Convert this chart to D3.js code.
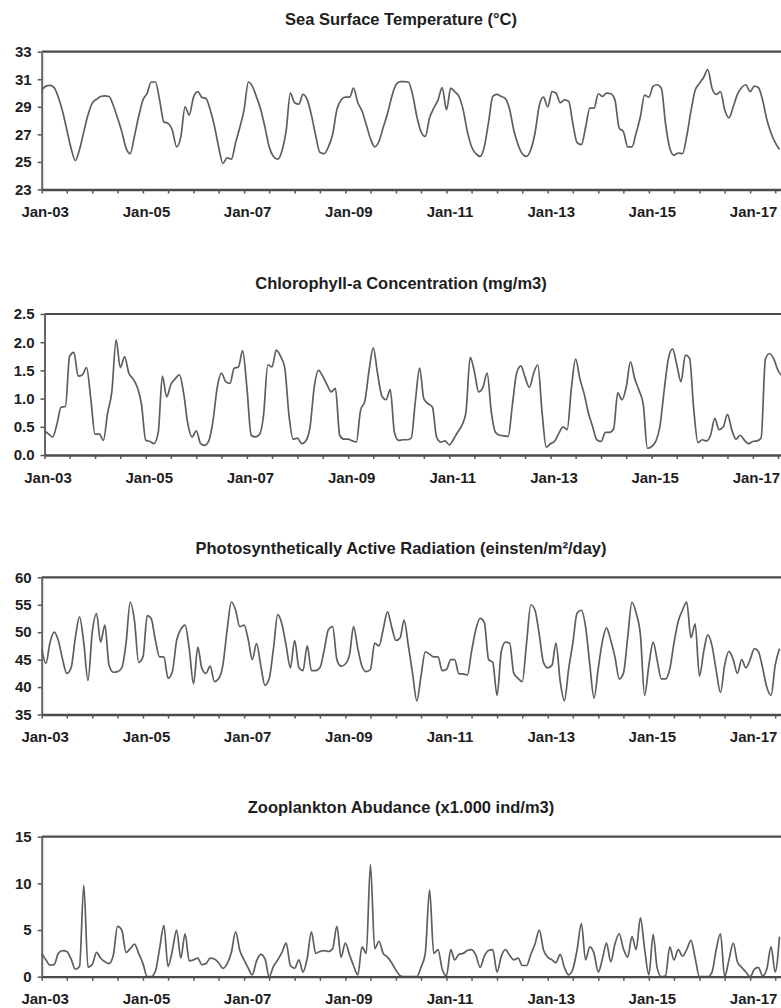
<!DOCTYPE html>
<html>
<head>
<meta charset="utf-8">
<script src="https://cdn.jsdelivr.net/npm/d3@7"></script>
<style>
	body { margin: 0; background: #fff; }
	svg { display: block; font-family: "Liberation Sans", Arial, sans-serif; }
</style>
</head>
<body>
<svg id="chart" width="781" height="1008"></svg>
<script>
// monthly series, first value = Jan 2003
var startYear = 2003;

var sstValues = [
	30.2, 30.5, 30.55, 30.4, 29.7, 28.66, 27.34, 26.0, 25.1, 25.9,
	27.2, 28.4, 29.27, 29.55, 29.75, 29.8, 29.75, 29.1, 28.2, 27.2,
	26.0, 25.6, 26.9, 28.3, 29.5, 30.0, 30.8, 30.8, 29.5, 27.9,
	27.8, 27.3, 26.1, 26.8, 29.0, 28.4, 29.7, 30.1, 29.7, 29.6,
	28.8, 27.6, 26.1, 24.9, 25.3, 25.2, 26.4, 27.5, 28.8, 30.8,
	30.5, 29.7, 28.8, 27.5, 26.1, 25.4, 25.2, 25.8, 27.3, 30.0,
	29.3, 29.2, 29.9, 29.5, 28.4, 26.9, 25.7, 25.6, 26.1, 27.0,
	28.8, 29.5, 29.7, 29.7, 30.35, 29.3, 28.7, 27.7, 26.7, 26.1,
	26.5, 27.5, 28.5, 29.7, 30.6, 30.83, 30.83, 30.8, 29.9, 28.3,
	27.2, 26.85, 28.2, 28.9, 29.5, 30.4, 28.8, 30.35, 30.1, 29.75,
	28.8, 27.2, 26.1, 25.6, 25.4, 26.1, 27.9, 29.75, 29.9, 29.75,
	29.6, 28.8, 27.3, 26.25, 25.6, 25.4, 25.9, 27.1, 29.1, 29.7,
	29.0, 30.1, 30.0, 29.3, 29.5, 29.4, 27.8, 26.4, 26.25, 27.5,
	28.9, 28.9, 29.95, 29.75, 30.0, 29.95, 29.5, 27.45, 27.2, 26.1,
	26.1, 27.1, 28.3, 29.85, 29.7, 30.5, 30.6, 30.35, 27.8, 26.0,
	25.5, 25.65, 25.6, 26.85, 28.7, 30.2, 30.7, 31.15, 31.7, 30.35,
	29.9, 30.1, 28.8, 28.2, 29.0, 29.9, 30.4, 30.6, 30.1, 30.5,
	30.4, 29.5, 28.1, 27.1, 26.4, 25.9
];

var chlValues = [
	0.43, 0.37, 0.32, 0.55, 0.85, 0.86, 1.75, 1.82, 1.40, 1.42,
	1.55, 1.0, 0.37, 0.37, 0.26, 0.75, 1.12, 2.04, 1.55, 1.74,
	1.45, 1.35, 1.2, 0.9, 0.26, 0.24, 0.2, 0.4, 1.4, 1.03,
	1.25, 1.35, 1.42, 1.1, 0.55, 0.32, 0.43, 0.2, 0.17, 0.25,
	0.6, 1.2, 1.45, 1.3, 1.27, 1.54, 1.56, 1.85, 1.2, 0.35,
	0.32, 0.36, 0.7, 1.6, 1.56, 1.86, 1.75, 1.55, 0.7, 0.28,
	0.3, 0.2, 0.25, 0.5, 1.2, 1.5, 1.4, 1.25, 1.12, 1.18,
	0.35, 0.28, 0.28, 0.25, 0.23, 0.8, 0.95, 1.5, 1.9, 1.45,
	1.05, 0.98, 1.16, 0.4, 0.26, 0.27, 0.27, 0.3, 0.95, 1.54,
	1.0, 0.91, 0.85, 0.32, 0.23, 0.25, 0.18, 0.28, 0.4, 0.52,
	0.75, 1.73, 1.48, 1.12, 1.2, 1.45, 0.75, 0.4, 0.35, 0.34,
	0.33, 0.9, 1.45, 1.58, 1.38, 1.2, 1.45, 1.6, 0.75, 0.14,
	0.2, 0.25, 0.38, 0.5, 0.45, 1.2, 1.7, 1.35, 1.08, 0.75,
	0.5, 0.27, 0.24, 0.4, 0.4, 0.46, 1.1, 0.98, 1.2, 1.65,
	1.35, 1.15, 0.9, 0.12, 0.15, 0.25, 0.5, 1.14, 1.7, 1.88,
	1.6, 1.3, 1.77, 1.72, 0.8, 0.22, 0.27, 0.25, 0.35, 0.65,
	0.45, 0.5, 0.72, 0.45, 0.28, 0.35, 0.26, 0.2, 0.24, 0.25,
	0.3, 1.7, 1.8, 1.7, 1.5, 1.4
];

var parValues = [
	47, 44.3, 48, 50, 48.5, 45, 42.5, 43.5, 49, 52.8,
	48, 41.2, 50, 53.4, 48.2, 51.3, 44, 42.7, 42.8, 43.5,
	48, 55.5, 52, 44.5, 45.5, 53, 52.5, 48.5, 45.5, 45.5,
	41.6, 42.8, 48.5, 50.5, 51.3, 47, 40.6, 47.3, 43.5, 42.5,
	43.8, 41, 41.5, 44, 50.5, 55.5, 54, 51, 51.3, 48.5,
	45, 47.9, 44, 40.3, 41.5, 47, 53.2, 51.5, 47.5, 43.5,
	48.5, 43.5, 43, 47.5, 43, 43, 43.5, 46.7, 50.5, 51,
	45, 43.8, 44.2, 46, 51, 47, 43.8, 42.8, 43.2, 48,
	47.5, 50.5, 53.7, 51, 48.5, 49, 52.2, 47.5, 42.5, 37.5,
	42, 46.4, 46, 45.5, 45.5, 43, 43.2, 45, 45, 42.4,
	42.4, 42.2, 46.5, 50.5, 52.5, 51.8, 45, 44.5, 38.5, 46.5,
	48.2, 48, 42.5, 41.6, 41.0, 48, 55, 54, 49.5, 44.5,
	43.5, 44, 48, 41, 37.5, 43.3, 48, 53.5, 54, 51,
	44, 38, 43.5, 48.5, 50.8, 48.5, 45.5, 41.5, 42.5, 49,
	55.5, 53.5, 49.5, 38.5, 44, 48.2, 45, 41.5, 41.5, 43.3,
	48, 52, 54, 55.5, 49, 51.5, 42, 46.5, 49.5, 47.5,
	43, 39, 44, 46.5, 45, 42.5, 45, 43.5, 45, 47,
	46.5, 43.5, 40, 38.5, 44, 47
];

var zooValues = [
	2.5, 1.8, 1.25, 1.3, 2.5, 2.8, 2.7, 1.9, 0.8, 1.1,
	9.8, 1.0, 1.3, 2.6, 2.0, 1.6, 1.4, 2.3, 5.4, 5.0,
	2.6, 3.0, 3.5, 2.5, 1.4, 0, 0, 0.6, 3.0, 5.5,
	1.1, 2.8, 5.0, 2.0, 4.6, 1.7, 1.8, 2.0, 1.3, 1.4,
	2.0, 1.9, 1.5, 0.9, 1.4, 2.6, 4.8, 2.8, 1.8, 0.9,
	0.2, 1.7, 2.4, 1.9, 0, 1.1, 1.8, 2.6, 3.6, 1.2,
	0.9, 1.8, 0.5, 2.0, 4.8, 2.5, 2.7, 2.8, 2.7, 3.0,
	5.4, 2.1, 3.6, 2.3, 1.2, 0.2, 3.2, 2.5, 12.0, 3.0,
	3.8, 2.5, 2.1, 1.5, 0.7, 0.1, 0, 0, 0, 0,
	1.0, 2.5, 9.3, 2.5, 2.9, 0.8, 0.1, 2.9, 1.8, 2.4,
	2.5, 2.8, 2.9, 2.3, 1.0, 2.2, 2.8, 2.9, 0.5, 2.2,
	2.9, 2.3, 1.8, 2.0, 1.2, 1.2, 2.4, 3.5, 5.0, 2.9,
	2.1, 1.8, 1.5, 2.4, 1.0, 0.2, 0.8, 2.9, 5.7, 1.8,
	3.2, 2.5, 0.5, 2.0, 3.6, 1.6, 3.5, 4.6, 3.0, 2.1,
	4.3, 2.9, 6.3, 3.0, 0.2, 4.5, 1.0, 0, 0.1, 3.2,
	1.8, 2.9, 2.2, 2.9, 3.9, 2.0, 0, 0, 0, 0.5,
	2.9, 4.6, 0, 1.8, 3.6, 1.6, 1.0, 0.5, 0, 0.8,
	1.0, 0.1, 0.8, 3.2, 0.5, 4.3
];

var sstTicks = [23, 25, 27, 29, 31, 33];
var chlTicks = [0, 0.5, 1.0, 1.5, 2.0, 2.5];
var parTicks = [35, 40, 45, 50, 55, 60];
var zooTicks = [0, 5, 10, 15];

var xLabels = ["Jan-03", "Jan-05", "Jan-07", "Jan-09", "Jan-11", "Jan-13", "Jan-15", "Jan-17"];

var titles = [
	"Sea Surface Temperature (°C)",
	"Chlorophyll-a Concentration (mg/m3)",
	"Photosynthetically Active Radiation (einsten/m²/day)",
	"Zooplankton Abudance (x1.000 ind/m3)"
];

var svg = d3.select("#chart");
var W = 781;
var yearPx = 50.6;
var textColor = "#1e1e1e";
var monthLabel = d3.timeFormat("%b-%y");

var drawPanel = function (cfg) {
	var g = svg.append("g");

	var x = d3.scaleTime()
		.domain([new Date(startYear, 0, 1), new Date(startYear + 15, 0, 1)])
		.range([cfg.left, cfg.left + 15 * yearPx]);
	var y = d3.scaleLinear()
		.domain(d3.extent(cfg.ticks))
		.range([cfg.bottom, cfg.top]);

	// title
	g.append("text")
		.attr("x", 401)
		.attr("y", cfg.titleY + 6)
		.attr("text-anchor", "middle")
		.attr("font-size", "16.5px")
		.attr("font-weight", "bold")
		.attr("fill", textColor)
		.text(cfg.title);

	// top border of plot area
	g.append("line")
		.attr("x1", cfg.left).attr("x2", W)
		.attr("y1", cfg.top).attr("y2", cfg.top)
		.attr("stroke", "#4a4a4a")
		.attr("stroke-width", 2.2);

	// left axis
	var yAxis = d3.axisLeft(y)
		.tickValues(cfg.ticks)
		.tickSize(4)
		.tickSizeOuter(0)
		.tickPadding(6)
		.tickFormat(d3.format(cfg.fmt));
	var ya = g.append("g")
		.attr("transform", "translate(" + cfg.left + ",0)")
		.call(yAxis);
	ya.select(".domain").attr("stroke", "#666").attr("stroke-width", 2);
	ya.selectAll(".tick line").attr("stroke", "#555").attr("stroke-width", 1.5);
	ya.selectAll("text")
		.attr("font-size", "15px")
		.attr("font-weight", "bold")
		.attr("font-family", "Liberation Sans, Arial, sans-serif")
		.attr("fill", textColor);

	// line
	var line = d3.line()
		.x(function (d, i) { return x(new Date(startYear, i, 1)); })
		.y(function (d) { return y(d); })
		.curve(d3.curveMonotoneX);
	g.append("path")
		.datum(cfg.values)
		.attr("d", line)
		.attr("fill", "none")
		.attr("stroke", "#5e5e5e")
		.attr("stroke-width", 1.7)
		.attr("stroke-linejoin", "round");

	// bottom axis, a tick every six months
	var tickDates = d3.timeMonth.every(6).range(new Date(startYear, 0, 1), new Date(startYear + 14, 9, 1));
	var xAxis = d3.axisBottom(x)
		.tickValues(tickDates)
		.tickSize(4)
		.tickSizeOuter(0)
		.tickFormat(function (d) {
			var s = monthLabel(d);
			return xLabels.indexOf(s) >= 0 ? s : "";
		});
	var xa = g.append("g")
		.attr("transform", "translate(0," + cfg.bottom + ")")
		.call(xAxis);
	xa.select(".domain").attr("stroke", "#4a4a4a").attr("stroke-width", 2.3);
	xa.selectAll(".tick line").attr("stroke", "#555").attr("stroke-width", 1.5);
	xa.selectAll("text")
		.attr("y", 27.5)
		.attr("dy", null)
		.attr("dx", 3)
		.attr("font-size", "15px")
		.attr("font-weight", "bold")
		.attr("font-family", "Liberation Sans, Arial, sans-serif")
		.attr("fill", textColor);
};

drawPanel({ title: titles[0], values: sstValues, ticks: sstTicks, fmt: "d",
	left: 41.7, top: 51.7, bottom: 189.5, titleY: 19 });
drawPanel({ title: titles[1], values: chlValues, ticks: chlTicks, fmt: ".1f",
	left: 44.5, top: 314, bottom: 455, titleY: 283 });
drawPanel({ title: titles[2], values: parValues, ticks: parTicks, fmt: "d",
	left: 41.7, top: 577.3, bottom: 714.5, titleY: 548 });
drawPanel({ title: titles[3], values: zooValues, ticks: zooTicks, fmt: "d",
	left: 41.7, top: 836.7, bottom: 976.7, titleY: 807 });
</script>
</body>
</html>
